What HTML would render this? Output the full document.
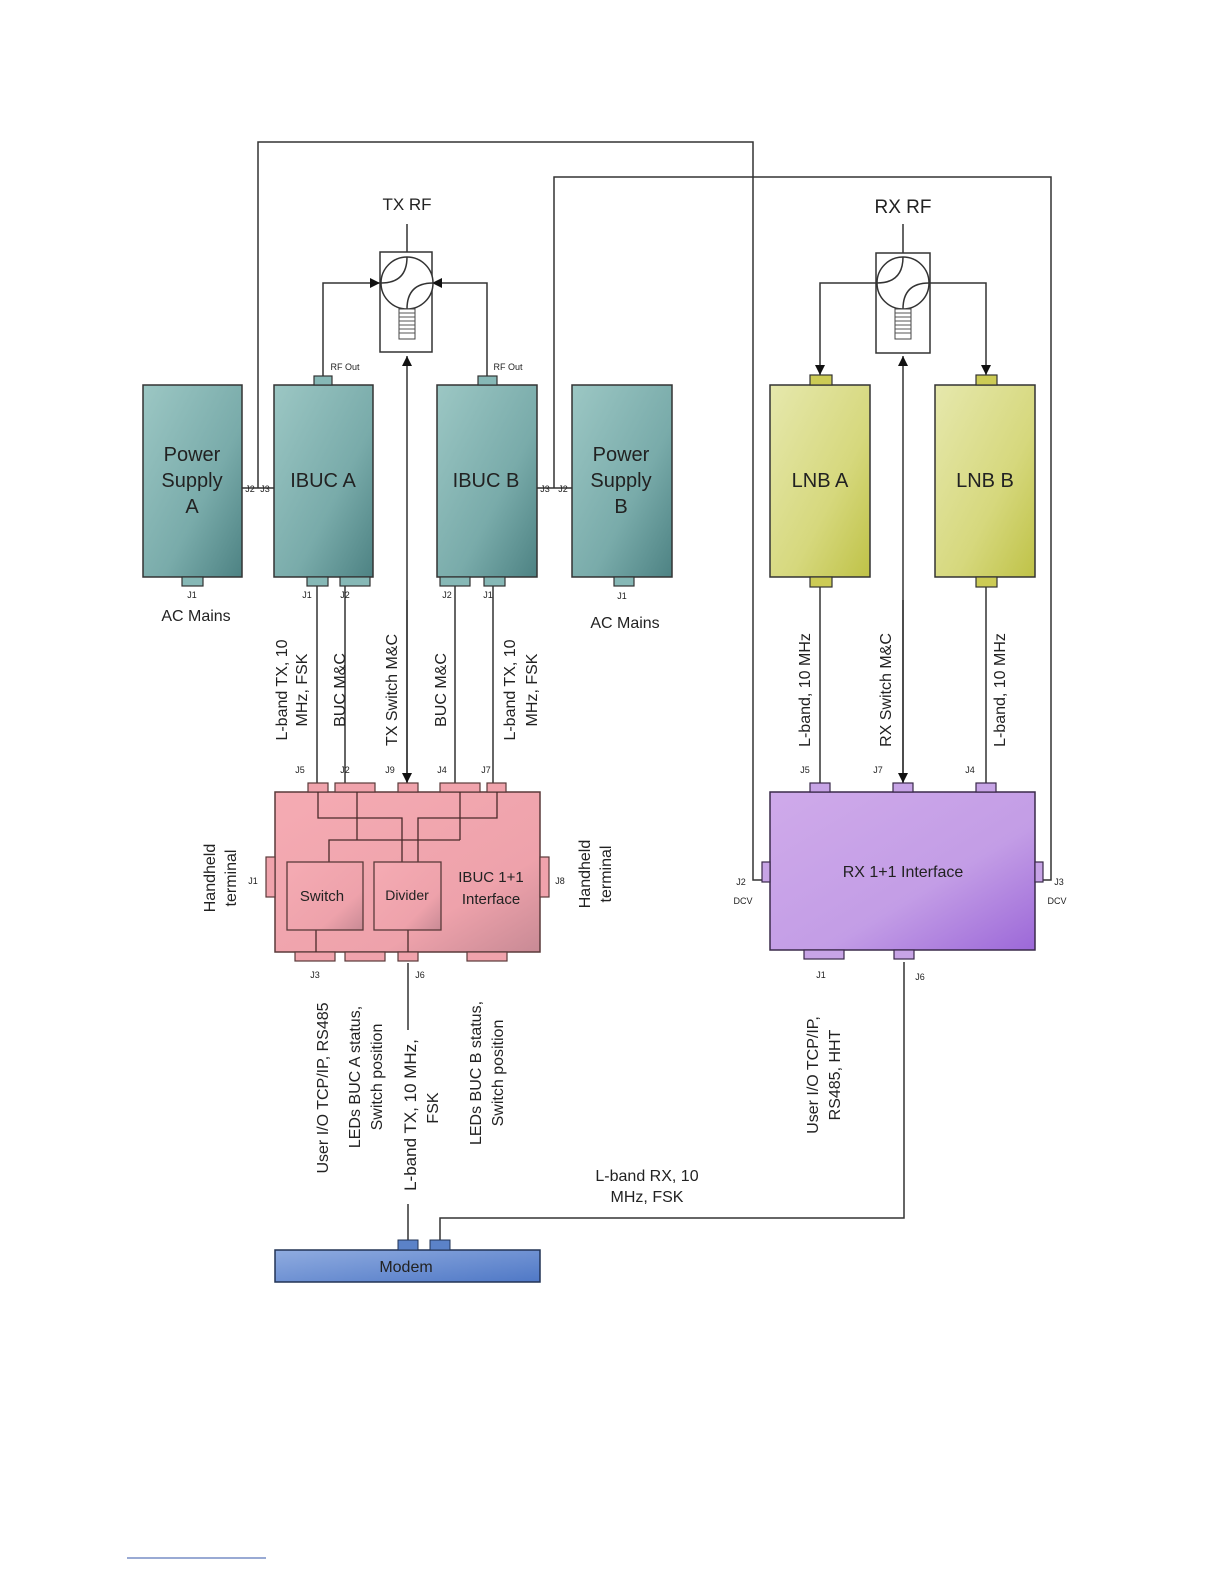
<!DOCTYPE html>
<html><head><meta charset="utf-8"><style>
html,body{margin:0;padding:0;background:#fff;}
svg{display:block;}
text{font-family:"Liberation Sans",Arial,sans-serif;fill:#222;}
</style></head><body>
<svg width="1224" height="1584" viewBox="0 0 1224 1584" xmlns="http://www.w3.org/2000/svg">
<defs>
<linearGradient id="teal" x1="0" y1="0" x2="1" y2="1"><stop offset="0" stop-color="#9cc7c4"/><stop offset="0.6" stop-color="#79abaa"/><stop offset="1" stop-color="#4d8283"/></linearGradient>
<linearGradient id="pink" x1="0" y1="0" x2="1" y2="1"><stop offset="0" stop-color="#f5abb3"/><stop offset="0.7" stop-color="#eea2ab"/><stop offset="1" stop-color="#c88a95"/></linearGradient>
<linearGradient id="purp" x1="0" y1="0" x2="1" y2="1"><stop offset="0" stop-color="#cfaaea"/><stop offset="0.6" stop-color="#c39de6"/><stop offset="1" stop-color="#9c68d8"/></linearGradient>
<linearGradient id="yel" x1="0" y1="0" x2="1" y2="1"><stop offset="0" stop-color="#e6e8ad"/><stop offset="0.6" stop-color="#d6d87d"/><stop offset="1" stop-color="#bfc247"/></linearGradient>
<linearGradient id="blue" x1="0" y1="0" x2="1" y2="1"><stop offset="0" stop-color="#90ace0"/><stop offset="1" stop-color="#4f78c6"/></linearGradient>
<marker id="ar" viewBox="0 0 10 10" refX="10" refY="5" markerWidth="10" markerHeight="10" markerUnits="userSpaceOnUse" orient="auto"><path d="M0,0 L10,5 L0,10 z" fill="#111"/></marker>
</defs>
<g fill="none" stroke="#333" stroke-width="1.5">
<polyline points="242,488 274,488"/>
<polyline points="258,488 258,142 753,142 753,880 764,880"/>
<polyline points="537,488 572,488"/>
<polyline points="554,488 554,177 1051,177 1051,880 1041,880"/>
<line x1="407" y1="224" x2="407" y2="258"/>
<polyline points="323,376 323,283 380,283" marker-end="url(#ar)"/>
<polyline points="487,376 487,283 432,283" marker-end="url(#ar)"/>
<line x1="407" y1="783" x2="407" y2="356" marker-end="url(#ar)"/>
<line x1="407" y1="600" x2="407" y2="783" marker-end="url(#ar)"/>
<line x1="317" y1="586" x2="317" y2="783"/>
<line x1="345" y1="586" x2="345" y2="783"/>
<line x1="455" y1="586" x2="455" y2="783"/>
<line x1="493" y1="586" x2="493" y2="783"/>
<line x1="903" y1="224" x2="903" y2="258"/>
<polyline points="877,283 820,283 820,375" marker-end="url(#ar)"/>
<polyline points="930,283 986,283 986,375" marker-end="url(#ar)"/>
<line x1="903" y1="783" x2="903" y2="356" marker-end="url(#ar)"/>
<line x1="903" y1="600" x2="903" y2="783" marker-end="url(#ar)"/>
<line x1="820" y1="587" x2="820" y2="783"/>
<line x1="986" y1="587" x2="986" y2="783"/>
<line x1="408" y1="963" x2="408" y2="1030"/>
<line x1="408" y1="1204" x2="408" y2="1240"/>
<polyline points="440,1240 440,1218 904,1218 904,962"/>
</g>
<rect x="380" y="252" width="52" height="100" fill="#fff" stroke="#333" stroke-width="1.5"/>
<circle cx="407" cy="283" r="26" fill="#fff" stroke="#333" stroke-width="1.5"/>
<path d="M407,257 Q407,283 381,283 M433,283 Q407,283 407,309" fill="none" stroke="#333" stroke-width="1.5"/>
<rect x="399" y="309" width="16" height="30" fill="#fff" stroke="#444"/>
<path d="M399,313h16M399,317h16M399,321h16M399,325h16M399,329h16M399,333h16" stroke="#555"/>
<rect x="876" y="253" width="54" height="100" fill="#fff" stroke="#333" stroke-width="1.5"/>
<circle cx="903" cy="283" r="26" fill="#fff" stroke="#333" stroke-width="1.5"/>
<path d="M903,257 Q903,283 877,283 M929,283 Q903,283 903,309" fill="none" stroke="#333" stroke-width="1.5"/>
<rect x="895" y="309" width="16" height="30" fill="#fff" stroke="#444"/>
<path d="M895,313h16M895,317h16M895,321h16M895,325h16M895,329h16M895,333h16" stroke="#555"/>
<text x="407" y="210" font-size="17" text-anchor="middle">TX RF</text>
<text x="903" y="213" font-size="19" text-anchor="middle">RX RF</text>
<g stroke="#333" stroke-width="1.5">
<rect x="143" y="385" width="99" height="192" fill="url(#teal)"/>
<rect x="274" y="385" width="99" height="192" fill="url(#teal)"/>
<rect x="437" y="385" width="100" height="192" fill="url(#teal)"/>
<rect x="572" y="385" width="100" height="192" fill="url(#teal)"/>
<g fill="#86b8b6" stroke-width="1.2">
<rect x="182" y="577" width="21" height="9"/>
<rect x="314" y="376" width="18" height="9"/>
<rect x="307" y="577" width="21" height="9"/>
<rect x="340" y="577" width="30" height="9"/>
<rect x="478" y="376" width="19" height="9"/>
<rect x="440" y="577" width="30" height="9"/>
<rect x="484" y="577" width="21" height="9"/>
<rect x="614" y="577" width="20" height="9"/>
</g>
<rect x="770" y="385" width="100" height="192" fill="url(#yel)"/>
<rect x="935" y="385" width="100" height="192" fill="url(#yel)"/>
<g fill="#cccb55" stroke-width="1.2">
<rect x="810" y="375" width="22" height="10"/><rect x="810" y="577" width="22" height="10"/>
<rect x="976" y="375" width="21" height="10"/><rect x="976" y="577" width="21" height="10"/>
</g>
</g>
<g font-size="20" text-anchor="middle" fill="#1d3a3a">
<text x="192" y="461">Power</text><text x="192" y="487">Supply</text><text x="192" y="513">A</text>
<text x="323" y="487">IBUC A</text><text x="486" y="487">IBUC B</text>
<text x="621" y="461">Power</text><text x="621" y="487">Supply</text><text x="621" y="513">B</text>
<text x="820" y="487">LNB A</text><text x="985" y="487">LNB B</text>
</g>
<g font-size="9" text-anchor="middle">
<text x="250" y="492">J2</text><text x="265" y="492">J3</text>
<text x="545" y="492">J3</text><text x="563" y="492">J2</text>
<text x="345" y="370">RF Out</text><text x="508" y="370">RF Out</text>
<text x="192" y="598">J1</text><text x="307" y="598">J1</text><text x="345" y="598">J2</text>
<text x="447" y="598">J2</text><text x="488" y="598">J1</text><text x="622" y="599">J1</text>
</g>
<text x="196" y="621" font-size="16" text-anchor="middle">AC Mains</text>
<text x="625" y="628" font-size="16" text-anchor="middle">AC Mains</text>
<g font-size="16" text-anchor="middle">
<text transform="translate(287,690) rotate(-90)">L-band TX, 10</text>
<text transform="translate(307,690) rotate(-90)">MHz, FSK</text>
<text transform="translate(345,690) rotate(-90)">BUC M&amp;C</text>
<text transform="translate(397,690) rotate(-90)">TX Switch M&amp;C</text>
<text transform="translate(446,690) rotate(-90)">BUC M&amp;C</text>
<text transform="translate(515,690) rotate(-90)">L-band TX, 10</text>
<text transform="translate(537,690) rotate(-90)">MHz, FSK</text>
<text transform="translate(810,690) rotate(-90)">L-band, 10 MHz</text>
<text transform="translate(891,690) rotate(-90)">RX Switch M&amp;C</text>
<text transform="translate(1005,690) rotate(-90)">L-band, 10 MHz</text>
</g>
<g font-size="9" text-anchor="middle">
<text x="300" y="773">J5</text><text x="345" y="773">J2</text><text x="390" y="773">J9</text><text x="442" y="773">J4</text><text x="486" y="773">J7</text>
<text x="805" y="773">J5</text><text x="878" y="773">J7</text><text x="970" y="773">J4</text>
</g>
<rect x="275" y="792" width="265" height="160" fill="url(#pink)" stroke="#5a3a3a" stroke-width="1.5"/>
<g fill="#f0a3ac" stroke="#5a3a3a" stroke-width="1.2">
<rect x="308" y="783" width="20" height="9"/><rect x="335" y="783" width="40" height="9"/><rect x="398" y="783" width="20" height="9"/>
<rect x="440" y="783" width="40" height="9"/><rect x="487" y="783" width="19" height="9"/>
<rect x="295" y="952" width="40" height="9"/><rect x="345" y="952" width="40" height="9"/><rect x="398" y="952" width="20" height="9"/><rect x="467" y="952" width="40" height="9"/>
<rect x="266" y="857" width="9" height="40"/><rect x="540" y="857" width="9" height="40"/>
</g>
<g fill="none" stroke="#4a2a2a" stroke-width="1.3">
<polyline points="318,792 318,818 402,818 402,862"/>
<polyline points="497,792 497,818 418,818 418,862"/>
<polyline points="357,792 357,840"/><polyline points="460,792 460,840"/>
<polyline points="329,862 329,840 460,840"/>
<line x1="316" y1="930" x2="316" y2="952"/>
<line x1="408" y1="930" x2="408" y2="952"/>
</g>
<rect x="287" y="862" width="76" height="68" fill="url(#pink)" stroke="#5a3a3a" stroke-width="1.3"/>
<rect x="374" y="862" width="67" height="68" fill="url(#pink)" stroke="#5a3a3a" stroke-width="1.3"/>
<g text-anchor="middle">
<text x="322" y="901" font-size="15" fill="#4a2a2a">Switch</text>
<text x="407" y="900" font-size="14" fill="#4a2a2a">Divider</text>
<text x="491" y="882" font-size="15" fill="#4a2a2a">IBUC 1+1</text>
<text x="491" y="904" font-size="15" fill="#4a2a2a">Interface</text>
</g>
<g font-size="16" text-anchor="middle">
<text transform="translate(215,878) rotate(-90)">Handheld</text>
<text transform="translate(236,878) rotate(-90)">terminal</text>
<text transform="translate(590,874) rotate(-90)">Handheld</text>
<text transform="translate(611,874) rotate(-90)">terminal</text>
</g>
<g font-size="9" text-anchor="middle">
<text x="253" y="884">J1</text><text x="560" y="884">J8</text>
<text x="315" y="978">J3</text><text x="420" y="978">J6</text>
</g>
<rect x="770" y="792" width="265" height="158" fill="url(#purp)" stroke="#3a2a4a" stroke-width="1.5"/>
<g fill="#c7a4e6" stroke="#3a2a4a" stroke-width="1.2">
<rect x="810" y="783" width="20" height="9"/><rect x="893" y="783" width="20" height="9"/><rect x="976" y="783" width="20" height="9"/>
<rect x="804" y="950" width="40" height="9"/><rect x="894" y="950" width="20" height="9"/>
<rect x="762" y="862" width="8" height="20"/><rect x="1035" y="862" width="8" height="20"/>
</g>
<text x="903" y="877" font-size="16" text-anchor="middle" fill="#2a1a3a">RX 1+1 Interface</text>
<g font-size="9" text-anchor="middle">
<text x="741" y="885">J2</text><text x="743" y="904">DCV</text>
<text x="1059" y="885">J3</text><text x="1057" y="904">DCV</text>
<text x="821" y="978">J1</text><text x="920" y="980">J6</text>
</g>
<g font-size="16" text-anchor="middle">
<text transform="translate(328,1088) rotate(-90)">User I/O TCP/IP, RS485</text>
<text transform="translate(360,1077) rotate(-90)">LEDs BUC A status,</text>
<text transform="translate(382,1077) rotate(-90)">Switch position</text>
<text transform="translate(416,1115) rotate(-90)" font-size="17">L-band TX, 10 MHz,</text>
<text transform="translate(438,1108) rotate(-90)">FSK</text>
<text transform="translate(481,1073) rotate(-90)">LEDs BUC B status,</text>
<text transform="translate(503,1073) rotate(-90)">Switch position</text>
<text transform="translate(818,1075) rotate(-90)">User I/O TCP/IP,</text>
<text transform="translate(840,1075) rotate(-90)">RS485, HHT</text>
</g>
<text x="647" y="1181" font-size="16" text-anchor="middle">L-band RX, 10</text>
<text x="647" y="1202" font-size="16" text-anchor="middle">MHz, FSK</text>
<rect x="275" y="1250" width="265" height="32" fill="url(#blue)" stroke="#223355" stroke-width="1.5"/>
<rect x="398" y="1240" width="20" height="10" fill="#5b82c8" stroke="#223355"/>
<rect x="430" y="1240" width="20" height="10" fill="#5b82c8" stroke="#223355"/>
<text x="406" y="1272" font-size="16" text-anchor="middle" fill="#13264d">Modem</text>
<line x1="127" y1="1558" x2="266" y2="1558" stroke="#3355aa" stroke-width="1"/>
</svg>
</body></html>
